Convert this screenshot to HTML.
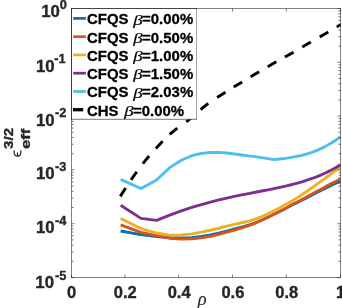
<!DOCTYPE html>
<html><head><meta charset="utf-8"><title>plot</title>
<style>html,body{margin:0;padding:0;background:#fff;overflow:hidden}body{width:342px;height:308px;position:relative;font-family:"Liberation Sans",sans-serif}</style></head>
<body>
<svg width="342" height="308" viewBox="0 0 342 308" style="position:absolute;left:0;top:0;will-change:transform">
<rect x="0" y="0" width="342" height="308" fill="#fff"/>
<defs><clipPath id="c"><rect x="71.5" y="8.5" width="269.0" height="269.0"/></clipPath></defs>
<g clip-path="url(#c)" fill="none" stroke-linejoin="round">
<polyline points="120.61,231.00 140.96,234.61 156.57,236.60 169.72,237.72 181.32,237.97 191.80,237.58 201.44,236.52 210.41,234.99 218.84,233.11 226.81,231.06 234.39,229.00 241.63,227.10 248.58,225.19 255.26,222.77 261.71,220.05 267.95,217.19 274.00,214.31 279.87,211.43 285.58,208.56 291.14,205.58 296.56,202.93 301.86,200.30 307.04,197.68 312.10,195.09 317.06,192.53 321.93,190.09 326.70,187.68 331.38,185.29 335.98,183.28 340.50,181.67" stroke="#0072BD" stroke-width="2.85"/>
<polyline points="120.61,224.90 140.96,232.30 156.57,235.60 169.72,238.21 181.32,239.07 191.80,238.83 201.44,237.82 210.41,236.29 218.84,234.38 226.81,232.20 234.39,230.01 241.63,227.87 248.58,225.73 255.26,223.11 261.71,220.24 267.95,217.23 274.00,214.21 279.87,211.19 285.58,208.17 291.14,205.06 296.56,202.26 301.86,199.49 307.04,196.74 312.10,194.02 317.06,191.33 321.93,188.67 326.70,186.05 331.38,183.45 335.98,181.20 340.50,179.17" stroke="#D95319" stroke-width="2.85"/>
<polyline points="120.61,218.40 140.96,228.60 156.57,233.00 169.72,235.13 181.32,235.02 191.80,233.84 201.44,232.15 210.41,230.24 218.84,228.24 226.81,226.22 234.39,224.39 241.63,222.74 248.58,221.24 255.26,219.15 261.71,216.63 267.95,213.85 274.00,210.79 279.87,207.66 285.58,204.57 291.14,201.42 296.56,198.14 301.86,194.76 307.04,191.29 312.10,187.76 317.06,184.20 321.93,180.64 326.70,177.11 331.38,173.63 335.98,170.25 340.50,166.99" stroke="#EDB120" stroke-width="2.85"/>
<polyline points="120.61,205.30 140.96,218.40 156.57,220.30 169.72,215.13 181.32,210.92 191.80,207.44 201.44,204.52 210.41,202.04 218.84,199.91 226.81,198.04 234.39,196.39 241.63,194.90 248.58,193.53 255.26,192.25 261.71,191.02 267.95,189.81 274.00,188.60 279.87,187.36 285.58,186.09 291.14,184.75 296.56,183.33 301.86,181.82 307.04,180.20 312.10,178.46 317.06,176.59 321.93,174.57 326.70,172.39 331.38,170.05 335.98,167.53 340.50,164.83" stroke="#7E2F8E" stroke-width="2.85"/>
<polyline points="120.61,179.40 140.96,188.50 156.57,180.00 169.72,167.60 181.32,160.20 191.80,155.70 201.44,153.30 210.41,152.50 218.84,152.40 226.81,153.00 234.39,154.00 241.63,155.00 248.58,155.90 255.26,156.60 261.71,157.60 267.95,158.60 274.00,159.70 279.87,159.00 285.58,158.30 291.14,157.40 296.56,156.40 301.86,155.30 307.04,153.90 312.10,152.37 317.06,150.37 321.93,148.13 326.70,145.64 331.38,142.94 335.98,140.03 340.50,136.94" stroke="#4DBEEE" stroke-width="2.85"/>
<line x1="120.28" y1="196.37" x2="125.62" y2="188.03" stroke="#000" stroke-width="2.9"/>
<line x1="131.06" y1="179.85" x2="136.74" y2="171.75" stroke="#000" stroke-width="2.9"/>
<line x1="142.81" y1="163.62" x2="149.09" y2="155.98" stroke="#000" stroke-width="2.9"/>
<line x1="155.84" y1="148.53" x2="162.66" y2="141.37" stroke="#000" stroke-width="2.9"/>
<line x1="169.64" y1="134.41" x2="177.26" y2="128.09" stroke="#000" stroke-width="2.9"/>
<line x1="186.30" y1="121.86" x2="194.00" y2="115.64" stroke="#000" stroke-width="2.9"/>
<line x1="200.56" y1="109.57" x2="208.24" y2="103.33" stroke="#000" stroke-width="2.9"/>
<line x1="217.11" y1="97.48" x2="225.49" y2="92.22" stroke="#000" stroke-width="2.9"/>
<line x1="233.68" y1="87.08" x2="242.12" y2="81.92" stroke="#000" stroke-width="2.9"/>
<line x1="250.64" y1="76.87" x2="259.16" y2="71.83" stroke="#000" stroke-width="2.9"/>
<line x1="267.70" y1="66.76" x2="276.30" y2="61.84" stroke="#000" stroke-width="2.9"/>
<line x1="284.91" y1="57.06" x2="293.49" y2="52.14" stroke="#000" stroke-width="2.9"/>
<line x1="302.27" y1="46.93" x2="310.83" y2="41.97" stroke="#000" stroke-width="2.9"/>
<line x1="319.70" y1="36.96" x2="328.30" y2="32.04" stroke="#000" stroke-width="2.9"/>
<line x1="336.76" y1="27.04" x2="345.14" y2="21.76" stroke="#000" stroke-width="2.9"/>
</g>
<g stroke="#262626" stroke-width="1" fill="none" stroke-opacity="0.58">
<rect x="71.5" y="8.5" width="269.0" height="269.0"/>
<line x1="71.50" y1="277.5" x2="71.50" y2="274.4"/>
<line x1="71.50" y1="8.5" x2="71.50" y2="11.6"/>
<line x1="124.90" y1="277.5" x2="124.90" y2="274.4"/>
<line x1="124.90" y1="8.5" x2="124.90" y2="11.6"/>
<line x1="178.70" y1="277.5" x2="178.70" y2="274.4"/>
<line x1="178.70" y1="8.5" x2="178.70" y2="11.6"/>
<line x1="232.50" y1="277.5" x2="232.50" y2="274.4"/>
<line x1="232.50" y1="8.5" x2="232.50" y2="11.6"/>
<line x1="286.30" y1="277.5" x2="286.30" y2="274.4"/>
<line x1="286.30" y1="8.5" x2="286.30" y2="11.6"/>
<line x1="340.50" y1="277.5" x2="340.50" y2="274.4"/>
<line x1="340.50" y1="8.5" x2="340.50" y2="11.6"/>
<line x1="71.5" y1="8.50" x2="74.6" y2="8.50"/>
<line x1="340.5" y1="8.50" x2="337.4" y2="8.50"/>
<line x1="71.5" y1="46.10" x2="73.4" y2="46.10" stroke-opacity="0.7"/>
<line x1="340.5" y1="46.10" x2="338.6" y2="46.10" stroke-opacity="0.7"/>
<line x1="71.5" y1="36.63" x2="73.4" y2="36.63" stroke-opacity="0.7"/>
<line x1="340.5" y1="36.63" x2="338.6" y2="36.63" stroke-opacity="0.7"/>
<line x1="71.5" y1="29.91" x2="73.4" y2="29.91" stroke-opacity="0.7"/>
<line x1="340.5" y1="29.91" x2="338.6" y2="29.91" stroke-opacity="0.7"/>
<line x1="71.5" y1="24.70" x2="73.4" y2="24.70" stroke-opacity="0.7"/>
<line x1="340.5" y1="24.70" x2="338.6" y2="24.70" stroke-opacity="0.7"/>
<line x1="71.5" y1="20.44" x2="73.4" y2="20.44" stroke-opacity="0.7"/>
<line x1="340.5" y1="20.44" x2="338.6" y2="20.44" stroke-opacity="0.7"/>
<line x1="71.5" y1="16.83" x2="73.4" y2="16.83" stroke-opacity="0.7"/>
<line x1="340.5" y1="16.83" x2="338.6" y2="16.83" stroke-opacity="0.7"/>
<line x1="71.5" y1="13.71" x2="73.4" y2="13.71" stroke-opacity="0.7"/>
<line x1="340.5" y1="13.71" x2="338.6" y2="13.71" stroke-opacity="0.7"/>
<line x1="71.5" y1="10.96" x2="73.4" y2="10.96" stroke-opacity="0.7"/>
<line x1="340.5" y1="10.96" x2="338.6" y2="10.96" stroke-opacity="0.7"/>
<line x1="71.5" y1="62.30" x2="74.6" y2="62.30"/>
<line x1="340.5" y1="62.30" x2="337.4" y2="62.30"/>
<line x1="71.5" y1="99.90" x2="73.4" y2="99.90" stroke-opacity="0.7"/>
<line x1="340.5" y1="99.90" x2="338.6" y2="99.90" stroke-opacity="0.7"/>
<line x1="71.5" y1="90.43" x2="73.4" y2="90.43" stroke-opacity="0.7"/>
<line x1="340.5" y1="90.43" x2="338.6" y2="90.43" stroke-opacity="0.7"/>
<line x1="71.5" y1="83.71" x2="73.4" y2="83.71" stroke-opacity="0.7"/>
<line x1="340.5" y1="83.71" x2="338.6" y2="83.71" stroke-opacity="0.7"/>
<line x1="71.5" y1="78.50" x2="73.4" y2="78.50" stroke-opacity="0.7"/>
<line x1="340.5" y1="78.50" x2="338.6" y2="78.50" stroke-opacity="0.7"/>
<line x1="71.5" y1="74.24" x2="73.4" y2="74.24" stroke-opacity="0.7"/>
<line x1="340.5" y1="74.24" x2="338.6" y2="74.24" stroke-opacity="0.7"/>
<line x1="71.5" y1="70.63" x2="73.4" y2="70.63" stroke-opacity="0.7"/>
<line x1="340.5" y1="70.63" x2="338.6" y2="70.63" stroke-opacity="0.7"/>
<line x1="71.5" y1="67.51" x2="73.4" y2="67.51" stroke-opacity="0.7"/>
<line x1="340.5" y1="67.51" x2="338.6" y2="67.51" stroke-opacity="0.7"/>
<line x1="71.5" y1="64.76" x2="73.4" y2="64.76" stroke-opacity="0.7"/>
<line x1="340.5" y1="64.76" x2="338.6" y2="64.76" stroke-opacity="0.7"/>
<line x1="71.5" y1="116.10" x2="74.6" y2="116.10"/>
<line x1="340.5" y1="116.10" x2="337.4" y2="116.10"/>
<line x1="71.5" y1="153.70" x2="73.4" y2="153.70" stroke-opacity="0.7"/>
<line x1="340.5" y1="153.70" x2="338.6" y2="153.70" stroke-opacity="0.7"/>
<line x1="71.5" y1="144.23" x2="73.4" y2="144.23" stroke-opacity="0.7"/>
<line x1="340.5" y1="144.23" x2="338.6" y2="144.23" stroke-opacity="0.7"/>
<line x1="71.5" y1="137.51" x2="73.4" y2="137.51" stroke-opacity="0.7"/>
<line x1="340.5" y1="137.51" x2="338.6" y2="137.51" stroke-opacity="0.7"/>
<line x1="71.5" y1="132.30" x2="73.4" y2="132.30" stroke-opacity="0.7"/>
<line x1="340.5" y1="132.30" x2="338.6" y2="132.30" stroke-opacity="0.7"/>
<line x1="71.5" y1="128.04" x2="73.4" y2="128.04" stroke-opacity="0.7"/>
<line x1="340.5" y1="128.04" x2="338.6" y2="128.04" stroke-opacity="0.7"/>
<line x1="71.5" y1="124.43" x2="73.4" y2="124.43" stroke-opacity="0.7"/>
<line x1="340.5" y1="124.43" x2="338.6" y2="124.43" stroke-opacity="0.7"/>
<line x1="71.5" y1="121.31" x2="73.4" y2="121.31" stroke-opacity="0.7"/>
<line x1="340.5" y1="121.31" x2="338.6" y2="121.31" stroke-opacity="0.7"/>
<line x1="71.5" y1="118.56" x2="73.4" y2="118.56" stroke-opacity="0.7"/>
<line x1="340.5" y1="118.56" x2="338.6" y2="118.56" stroke-opacity="0.7"/>
<line x1="71.5" y1="169.90" x2="74.6" y2="169.90"/>
<line x1="340.5" y1="169.90" x2="337.4" y2="169.90"/>
<line x1="71.5" y1="207.50" x2="73.4" y2="207.50" stroke-opacity="0.7"/>
<line x1="340.5" y1="207.50" x2="338.6" y2="207.50" stroke-opacity="0.7"/>
<line x1="71.5" y1="198.03" x2="73.4" y2="198.03" stroke-opacity="0.7"/>
<line x1="340.5" y1="198.03" x2="338.6" y2="198.03" stroke-opacity="0.7"/>
<line x1="71.5" y1="191.31" x2="73.4" y2="191.31" stroke-opacity="0.7"/>
<line x1="340.5" y1="191.31" x2="338.6" y2="191.31" stroke-opacity="0.7"/>
<line x1="71.5" y1="186.10" x2="73.4" y2="186.10" stroke-opacity="0.7"/>
<line x1="340.5" y1="186.10" x2="338.6" y2="186.10" stroke-opacity="0.7"/>
<line x1="71.5" y1="181.84" x2="73.4" y2="181.84" stroke-opacity="0.7"/>
<line x1="340.5" y1="181.84" x2="338.6" y2="181.84" stroke-opacity="0.7"/>
<line x1="71.5" y1="178.23" x2="73.4" y2="178.23" stroke-opacity="0.7"/>
<line x1="340.5" y1="178.23" x2="338.6" y2="178.23" stroke-opacity="0.7"/>
<line x1="71.5" y1="175.11" x2="73.4" y2="175.11" stroke-opacity="0.7"/>
<line x1="340.5" y1="175.11" x2="338.6" y2="175.11" stroke-opacity="0.7"/>
<line x1="71.5" y1="172.36" x2="73.4" y2="172.36" stroke-opacity="0.7"/>
<line x1="340.5" y1="172.36" x2="338.6" y2="172.36" stroke-opacity="0.7"/>
<line x1="71.5" y1="223.70" x2="74.6" y2="223.70"/>
<line x1="340.5" y1="223.70" x2="337.4" y2="223.70"/>
<line x1="71.5" y1="261.30" x2="73.4" y2="261.30" stroke-opacity="0.7"/>
<line x1="340.5" y1="261.30" x2="338.6" y2="261.30" stroke-opacity="0.7"/>
<line x1="71.5" y1="251.83" x2="73.4" y2="251.83" stroke-opacity="0.7"/>
<line x1="340.5" y1="251.83" x2="338.6" y2="251.83" stroke-opacity="0.7"/>
<line x1="71.5" y1="245.11" x2="73.4" y2="245.11" stroke-opacity="0.7"/>
<line x1="340.5" y1="245.11" x2="338.6" y2="245.11" stroke-opacity="0.7"/>
<line x1="71.5" y1="239.90" x2="73.4" y2="239.90" stroke-opacity="0.7"/>
<line x1="340.5" y1="239.90" x2="338.6" y2="239.90" stroke-opacity="0.7"/>
<line x1="71.5" y1="235.64" x2="73.4" y2="235.64" stroke-opacity="0.7"/>
<line x1="340.5" y1="235.64" x2="338.6" y2="235.64" stroke-opacity="0.7"/>
<line x1="71.5" y1="232.03" x2="73.4" y2="232.03" stroke-opacity="0.7"/>
<line x1="340.5" y1="232.03" x2="338.6" y2="232.03" stroke-opacity="0.7"/>
<line x1="71.5" y1="228.91" x2="73.4" y2="228.91" stroke-opacity="0.7"/>
<line x1="340.5" y1="228.91" x2="338.6" y2="228.91" stroke-opacity="0.7"/>
<line x1="71.5" y1="226.16" x2="73.4" y2="226.16" stroke-opacity="0.7"/>
<line x1="340.5" y1="226.16" x2="338.6" y2="226.16" stroke-opacity="0.7"/>
<line x1="71.5" y1="277.50" x2="74.6" y2="277.50"/>
<line x1="340.5" y1="277.50" x2="337.4" y2="277.50"/>
</g>
<g font-family="Liberation Sans, sans-serif" font-weight="bold" fill="#262626" stroke="#262626" stroke-width="0.35" stroke-linejoin="round">
<text x="71.50" y="298" font-size="16.5" text-anchor="middle">0</text>
<text x="125.30" y="298" font-size="16.5" text-anchor="middle">0.2</text>
<text x="179.10" y="298" font-size="16.5" text-anchor="middle">0.4</text>
<text x="232.90" y="298" font-size="16.5" text-anchor="middle">0.6</text>
<text x="286.70" y="298" font-size="16.5" text-anchor="middle">0.8</text>
<text x="340.50" y="298" font-size="16.5" text-anchor="middle">1</text>
<text x="66.9" y="8.60" font-size="12.8" text-anchor="end">0</text>
<text x="59.9" y="17.30" font-size="16.8" text-anchor="end">10</text>
<text x="65.6" y="63.40" font-size="12.8" text-anchor="end">-1</text>
<text x="54.6" y="71.70" font-size="16.8" text-anchor="end">10</text>
<text x="66.3" y="117.20" font-size="12.8" text-anchor="end">-2</text>
<text x="54.6" y="125.50" font-size="16.8" text-anchor="end">10</text>
<text x="66.3" y="171.00" font-size="12.8" text-anchor="end">-3</text>
<text x="54.6" y="179.30" font-size="16.8" text-anchor="end">10</text>
<text x="66.3" y="224.80" font-size="12.8" text-anchor="end">-4</text>
<text x="54.6" y="233.10" font-size="16.8" text-anchor="end">10</text>
<text x="66.3" y="280.00" font-size="12.8" text-anchor="end">-5</text>
<text x="54.0" y="287.60" font-size="16.8" text-anchor="end">10</text>
<text x="202.2" y="304.6" font-size="18.5" stroke-width="0.1" font-family="Liberation Serif, serif" font-style="italic" font-weight="normal" text-anchor="middle">ρ</text>
<g transform="rotate(-90)">
<text x="-148.9" y="12.5" font-size="13.6" textLength="21" lengthAdjust="spacingAndGlyphs">3/2</text>
<text x="-149.1" y="30.0" font-size="13.3" textLength="20.4" lengthAdjust="spacingAndGlyphs">eff</text>
</g>
<path d="M14.2 150.9 C13.7 154.4 15.2 156.2 17.5 156.2 C19.8 156.2 21.3 154.4 20.8 150.9 M17.5 156.0 L17.5 152.8" fill="none" stroke="#262626" stroke-width="1.25" stroke-linecap="round"/>
</g>
</g>
<rect x="71.5" y="8.5" width="125.0" height="110.8" fill="#fff" stroke="none"/>
<g stroke="#262626" stroke-width="1" fill="none">
<line x1="196.5" y1="8.0" x2="196.5" y2="119.8" stroke-opacity="0.42"/>
<line x1="71.0" y1="119.3" x2="197.0" y2="119.3" stroke-opacity="0.62"/>
<line x1="71.5" y1="8.0" x2="71.5" y2="119.8" stroke-opacity="0.85"/>
<line x1="71.0" y1="8.5" x2="197.0" y2="8.5" stroke-opacity="0.8"/>
</g>
<line x1="73.2" y1="18.4" x2="85.9" y2="18.4" stroke="#0072BD" stroke-width="2.7"/>
<g font-family="Liberation Sans, sans-serif" font-weight="bold" font-size="14.95" fill="#000" stroke="#000" stroke-width="0.3" stroke-linejoin="round">
<text x="87.0" y="24.30">CFQS</text>
<text transform="translate(133.3,24.60) scale(1.26,1)" x="0" y="0" font-family="Liberation Serif, serif" font-style="italic" font-weight="normal" font-size="15" stroke-width="0.2">β</text>
<text x="142.10" y="24.30">=0.00%</text>
</g>
<line x1="73.2" y1="36.66" x2="85.9" y2="36.66" stroke="#D95319" stroke-width="2.7"/>
<g font-family="Liberation Sans, sans-serif" font-weight="bold" font-size="14.95" fill="#000" stroke="#000" stroke-width="0.3" stroke-linejoin="round">
<text x="87.0" y="42.56">CFQS</text>
<text transform="translate(133.3,42.86) scale(1.26,1)" x="0" y="0" font-family="Liberation Serif, serif" font-style="italic" font-weight="normal" font-size="15" stroke-width="0.2">β</text>
<text x="142.10" y="42.56">=0.50%</text>
</g>
<line x1="73.2" y1="54.92" x2="85.9" y2="54.92" stroke="#EDB120" stroke-width="2.7"/>
<g font-family="Liberation Sans, sans-serif" font-weight="bold" font-size="14.95" fill="#000" stroke="#000" stroke-width="0.3" stroke-linejoin="round">
<text x="87.0" y="60.82">CFQS</text>
<text transform="translate(133.3,61.12) scale(1.26,1)" x="0" y="0" font-family="Liberation Serif, serif" font-style="italic" font-weight="normal" font-size="15" stroke-width="0.2">β</text>
<text x="142.10" y="60.82">=1.00%</text>
</g>
<line x1="73.2" y1="73.18" x2="85.9" y2="73.18" stroke="#7E2F8E" stroke-width="2.7"/>
<g font-family="Liberation Sans, sans-serif" font-weight="bold" font-size="14.95" fill="#000" stroke="#000" stroke-width="0.3" stroke-linejoin="round">
<text x="87.0" y="79.08">CFQS</text>
<text transform="translate(133.3,79.38) scale(1.26,1)" x="0" y="0" font-family="Liberation Serif, serif" font-style="italic" font-weight="normal" font-size="15" stroke-width="0.2">β</text>
<text x="142.10" y="79.08">=1.50%</text>
</g>
<line x1="73.2" y1="91.44" x2="85.9" y2="91.44" stroke="#4DBEEE" stroke-width="2.7"/>
<g font-family="Liberation Sans, sans-serif" font-weight="bold" font-size="14.95" fill="#000" stroke="#000" stroke-width="0.3" stroke-linejoin="round">
<text x="87.0" y="97.34">CFQS</text>
<text transform="translate(133.3,97.64) scale(1.26,1)" x="0" y="0" font-family="Liberation Serif, serif" font-style="italic" font-weight="normal" font-size="15" stroke-width="0.2">β</text>
<text x="142.10" y="97.34">=2.03%</text>
</g>
<line x1="73.0" y1="109.70000000000002" x2="83.2" y2="109.70000000000002" stroke="#000" stroke-width="3.3"/>
<g font-family="Liberation Sans, sans-serif" font-weight="bold" font-size="14.95" fill="#000" stroke="#000" stroke-width="0.3" stroke-linejoin="round">
<text x="87.0" y="115.60">CHS</text>
<text transform="translate(124.2,115.90) scale(1.26,1)" x="0" y="0" font-family="Liberation Serif, serif" font-style="italic" font-weight="normal" font-size="15" stroke-width="0.2">β</text>
<text x="133.00" y="115.60">=0.00%</text>
</g>
</svg>
</body></html>
